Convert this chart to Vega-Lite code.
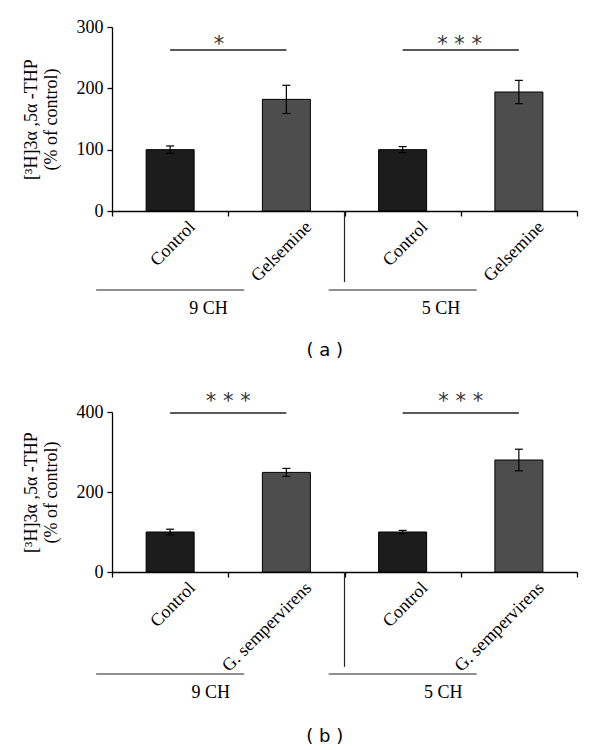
{
  "$schema": "https://vega.github.io/schema/vega-lite/v6.json",
  "padding": {"left": 22, "top": 18, "right": 20, "bottom": 5},
  "spacing": 31,
  "config": {
    "view": {"stroke": null},
    "font": "Liberation Serif",
    "axis": {
      "domainColor": "black", "tickColor": "black", "labelColor": "black", "titleColor": "black",
      "grid": false, "labelFont": "Liberation Serif", "titleFont": "Liberation Serif",
      "labelFontSize": 18, "titleFontSize": 18, "titleFontWeight": "normal",
      "tickSize": 5, "domainWidth": 1.3, "tickWidth": 1.3, "labelOverlap": false
    },
    "text": {"font": "Liberation Serif", "color": "black"}
  },
  "datasets": {
    "bars_a": [
      {"cat": "9CH|Control", "grp": "Control", "mean": 100, "lo": 94, "hi": 106},
      {"cat": "9CH|Gelsemine", "grp": "Treatment", "mean": 182, "lo": 159, "hi": 205},
      {"cat": "5CH|Control", "grp": "Control", "mean": 100, "lo": 95, "hi": 105},
      {"cat": "5CH|Gelsemine", "grp": "Treatment", "mean": 194, "lo": 175, "hi": 213}
    ],
    "sig_a": [
      {"cat": "9CH|Control", "cat2": "9CH|Gelsemine", "y": 262.5},
      {"cat": "5CH|Control", "cat2": "5CH|Gelsemine", "y": 262.5}
    ],
    "br_a": [
      {"cat": "9CH|Control", "y": -128.8},
      {"cat": "5CH|Control", "y": -128.8}
    ],
    "gl_a": [
      {"cat": "9CH|Control", "t": "9 CH", "y": -160},
      {"cat": "5CH|Control", "t": "5 CH", "y": -160}
    ],
    "bars_b": [
      {"cat": "9CH|Control", "grp": "Control", "mean": 100, "lo": 93, "hi": 107},
      {"cat": "9CH|G. sempervirens", "grp": "Treatment", "mean": 249, "lo": 239, "hi": 259},
      {"cat": "5CH|Control", "grp": "Control", "mean": 100, "lo": 96, "hi": 104},
      {"cat": "5CH|G. sempervirens", "grp": "Treatment", "mean": 280, "lo": 253, "hi": 307}
    ],
    "sig_b": [
      {"cat": "9CH|Control", "cat2": "9CH|G. sempervirens", "y": 397.5},
      {"cat": "5CH|Control", "cat2": "5CH|G. sempervirens", "y": 397.5}
    ],
    "br_b": [
      {"cat": "9CH|Control", "y": -255},
      {"cat": "5CH|Control", "y": -255}
    ],
    "gl_b": [
      {"cat": "9CH|Control", "t": "9 CH", "y": -302.5},
      {"cat": "5CH|Control", "t": "5 CH", "y": -302.5}
    ]
  },
  "vconcat": [
    {
      "width": 465, "height": 184,
      "layer": [
        {
          "data": {"name": "bars_a"},
          "mark": {"type": "bar", "size": 48, "stroke": "black", "strokeWidth": 1},
          "encoding": {
            "x": {"field": "cat", "type": "nominal",
              "scale": {"type": "band", "domain": ["9CH|Control", "9CH|Gelsemine", "5CH|Control", "5CH|Gelsemine"], "padding": 0},
              "axis": {"title": null, "tickBand": "extent", "labelExpr": "split(datum.value, '|')[1]", "labelAngle": -45, "labelAlign": "right", "labelBaseline": "middle", "labelOffset": 22, "labelPadding": 8}},
            "y": {"field": "mean", "type": "quantitative", "scale": {"domain": [0, 300]},
              "axis": {"values": [0, 100, 200, 300], "title": ["[³H]3α ,5α -THP", "(% of control)"], "titlePadding": 16, "labelPadding": 4}},
            "fill": {"field": "grp", "type": "nominal", "scale": {"domain": ["Control", "Treatment"], "range": ["#1c1c1c", "#4d4d4d"]}, "legend": null}
          }
        },
        {
          "data": {"name": "bars_a"},
          "mark": {"type": "rule", "color": "black", "strokeWidth": 1.2},
          "encoding": {
            "x": {"field": "cat", "type": "nominal", "scale": {"type": "band", "domain": ["9CH|Control", "9CH|Gelsemine", "5CH|Control", "5CH|Gelsemine"], "padding": 0}},
            "y": {"field": "lo", "type": "quantitative", "scale": {"domain": [0, 300]}},
            "y2": {"field": "hi"}
          }
        },
        {
          "data": {"name": "bars_a"},
          "mark": {"type": "tick", "size": 8, "thickness": 1.2, "color": "black", "opacity": 1},
          "encoding": {
            "x": {"field": "cat", "type": "nominal", "scale": {"type": "band", "domain": ["9CH|Control", "9CH|Gelsemine", "5CH|Control", "5CH|Gelsemine"], "padding": 0}},
            "y": {"field": "hi", "type": "quantitative", "scale": {"domain": [0, 300]}}
          }
        },
        {
          "data": {"name": "bars_a"},
          "mark": {"type": "tick", "size": 8, "thickness": 1.2, "color": "black", "opacity": 1},
          "encoding": {
            "x": {"field": "cat", "type": "nominal", "scale": {"type": "band", "domain": ["9CH|Control", "9CH|Gelsemine", "5CH|Control", "5CH|Gelsemine"], "padding": 0}},
            "y": {"field": "lo", "type": "quantitative", "scale": {"domain": [0, 300]}}
          }
        },
        {
          "data": {"name": "sig_a"},
          "mark": {"type": "rule", "color": "#222", "strokeWidth": 1.5},
          "encoding": {
            "x": {"field": "cat", "type": "nominal", "scale": {"type": "band", "domain": ["9CH|Control", "9CH|Gelsemine", "5CH|Control", "5CH|Gelsemine"], "padding": 0}},
            "x2": {"field": "cat2"},
            "y": {"field": "y", "type": "quantitative", "scale": {"domain": [0, 300]}}
          }
        },
        {
          "data": {"values": [{"cat": "9CH|Control", "s": "*", "y": 261}]},
          "mark": {"type": "text", "font": "DejaVu Sans", "fontSize": 21, "color": "#333", "baseline": "alphabetic", "align": "center"},
          "encoding": {
            "x": {"field": "cat", "type": "nominal", "bandPosition": 0.92, "scale": {"type": "band", "domain": ["9CH|Control", "9CH|Gelsemine", "5CH|Control", "5CH|Gelsemine"], "padding": 0}},
            "y": {"field": "y", "type": "quantitative", "scale": {"domain": [0, 300]}},
            "text": {"field": "s"}
          }
        },
        {
          "data": {"values": [{"cat": "5CH|Control", "s": "* * *", "y": 261}]},
          "mark": {"type": "text", "font": "DejaVu Sans", "fontSize": 21, "color": "#333", "baseline": "alphabetic", "align": "center"},
          "encoding": {
            "x": {"field": "cat", "type": "nominal", "bandPosition": 0.99, "scale": {"type": "band", "domain": ["9CH|Control", "9CH|Gelsemine", "5CH|Control", "5CH|Gelsemine"], "padding": 0}},
            "y": {"field": "y", "type": "quantitative", "scale": {"domain": [0, 300]}},
            "text": {"field": "s"}
          }
        },
        {
          "data": {"values": [{"cat": "5CH|Control", "y": 0, "y2": -116}]},
          "mark": {"type": "rule", "color": "#222", "strokeWidth": 1.2},
          "encoding": {
            "x": {"field": "cat", "type": "nominal", "bandPosition": 0, "scale": {"type": "band", "domain": ["9CH|Control", "9CH|Gelsemine", "5CH|Control", "5CH|Gelsemine"], "padding": 0}},
            "y": {"field": "y", "type": "quantitative", "scale": {"domain": [0, 300]}},
            "y2": {"field": "y2"}
          }
        },
        {
          "data": {"name": "br_a"},
          "mark": {"type": "tick", "size": 148, "thickness": 1.2, "color": "#222", "opacity": 1},
          "encoding": {
            "x": {"field": "cat", "type": "nominal", "bandPosition": 0.85, "scale": {"type": "band", "domain": ["9CH|Control", "9CH|Gelsemine", "5CH|Control", "5CH|Gelsemine"], "padding": 0}},
            "y": {"field": "y", "type": "quantitative", "scale": {"domain": [0, 300]}}
          }
        },
        {
          "data": {"name": "gl_a"},
          "mark": {"type": "text", "fontSize": 18, "baseline": "middle", "align": "center"},
          "encoding": {
            "x": {"field": "cat", "type": "nominal", "bandPosition": 0.83, "scale": {"type": "band", "domain": ["9CH|Control", "9CH|Gelsemine", "5CH|Control", "5CH|Gelsemine"], "padding": 0}},
            "y": {"field": "y", "type": "quantitative", "scale": {"domain": [0, 300]}},
            "text": {"field": "t"}
          }
        },
        {
          "data": {"values": [{"cat": "9CH|Gelsemine", "t": "( a )", "y": -227.5}]},
          "mark": {"type": "text", "font": "DejaVu Sans", "fontSize": 18, "baseline": "middle", "align": "center"},
          "encoding": {
            "x": {"field": "cat", "type": "nominal", "bandPosition": 0.83, "scale": {"type": "band", "domain": ["9CH|Control", "9CH|Gelsemine", "5CH|Control", "5CH|Gelsemine"], "padding": 0}},
            "y": {"field": "y", "type": "quantitative", "scale": {"domain": [0, 300]}},
            "text": {"field": "t"}
          }
        }
      ]
    },
    {
      "width": 465, "height": 160,
      "layer": [
        {
          "data": {"name": "bars_b"},
          "mark": {"type": "bar", "size": 48, "stroke": "black", "strokeWidth": 1},
          "encoding": {
            "x": {"field": "cat", "type": "nominal",
              "scale": {"type": "band", "domain": ["9CH|Control", "9CH|G. sempervirens", "5CH|Control", "5CH|G. sempervirens"], "padding": 0},
              "axis": {"title": null, "tickBand": "extent", "labelExpr": "split(datum.value, '|')[1]", "labelAngle": -45, "labelAlign": "right", "labelBaseline": "middle", "labelOffset": 22, "labelPadding": 8}},
            "y": {"field": "mean", "type": "quantitative", "scale": {"domain": [0, 400]},
              "axis": {"values": [0, 100, 200, 300, 400], "title": ["[³H]3α ,5α -THP", "(% of control)"], "titlePadding": 16, "labelPadding": 4}},
            "fill": {"field": "grp", "type": "nominal", "scale": {"domain": ["Control", "Treatment"], "range": ["#1c1c1c", "#4d4d4d"]}, "legend": null}
          }
        },
        {
          "data": {"name": "bars_b"},
          "mark": {"type": "rule", "color": "black", "strokeWidth": 1.2},
          "encoding": {
            "x": {"field": "cat", "type": "nominal", "scale": {"type": "band", "domain": ["9CH|Control", "9CH|G. sempervirens", "5CH|Control", "5CH|G. sempervirens"], "padding": 0}},
            "y": {"field": "lo", "type": "quantitative", "scale": {"domain": [0, 400]}},
            "y2": {"field": "hi"}
          }
        },
        {
          "data": {"name": "bars_b"},
          "mark": {"type": "tick", "size": 8, "thickness": 1.2, "color": "black", "opacity": 1},
          "encoding": {
            "x": {"field": "cat", "type": "nominal", "scale": {"type": "band", "domain": ["9CH|Control", "9CH|G. sempervirens", "5CH|Control", "5CH|G. sempervirens"], "padding": 0}},
            "y": {"field": "hi", "type": "quantitative", "scale": {"domain": [0, 400]}}
          }
        },
        {
          "data": {"name": "bars_b"},
          "mark": {"type": "tick", "size": 8, "thickness": 1.2, "color": "black", "opacity": 1},
          "encoding": {
            "x": {"field": "cat", "type": "nominal", "scale": {"type": "band", "domain": ["9CH|Control", "9CH|G. sempervirens", "5CH|Control", "5CH|G. sempervirens"], "padding": 0}},
            "y": {"field": "lo", "type": "quantitative", "scale": {"domain": [0, 400]}}
          }
        },
        {
          "data": {"name": "sig_b"},
          "mark": {"type": "rule", "color": "#222", "strokeWidth": 1.5},
          "encoding": {
            "x": {"field": "cat", "type": "nominal", "scale": {"type": "band", "domain": ["9CH|Control", "9CH|G. sempervirens", "5CH|Control", "5CH|G. sempervirens"], "padding": 0}},
            "x2": {"field": "cat2"},
            "y": {"field": "y", "type": "quantitative", "scale": {"domain": [0, 400]}}
          }
        },
        {
          "data": {"values": [{"cat": "9CH|G. sempervirens", "s": "* * *", "y": 410}, {"cat": "5CH|G. sempervirens", "s": "* * *", "y": 410}]},
          "mark": {"type": "text", "font": "DejaVu Sans", "fontSize": 21, "color": "#333", "baseline": "alphabetic", "align": "center"},
          "encoding": {
            "x": {"field": "cat", "type": "nominal", "bandPosition": 0, "scale": {"type": "band", "domain": ["9CH|Control", "9CH|G. sempervirens", "5CH|Control", "5CH|G. sempervirens"], "padding": 0}},
            "y": {"field": "y", "type": "quantitative", "scale": {"domain": [0, 400]}},
            "text": {"field": "s"}
          }
        },
        {
          "data": {"values": [{"cat": "5CH|Control", "y": 0, "y2": -237}]},
          "mark": {"type": "rule", "color": "#222", "strokeWidth": 1.2},
          "encoding": {
            "x": {"field": "cat", "type": "nominal", "bandPosition": 0, "scale": {"type": "band", "domain": ["9CH|Control", "9CH|G. sempervirens", "5CH|Control", "5CH|G. sempervirens"], "padding": 0}},
            "y": {"field": "y", "type": "quantitative", "scale": {"domain": [0, 400]}},
            "y2": {"field": "y2"}
          }
        },
        {
          "data": {"name": "br_b"},
          "mark": {"type": "tick", "size": 148, "thickness": 1.2, "color": "#222", "opacity": 1},
          "encoding": {
            "x": {"field": "cat", "type": "nominal", "bandPosition": 0.85, "scale": {"type": "band", "domain": ["9CH|Control", "9CH|G. sempervirens", "5CH|Control", "5CH|G. sempervirens"], "padding": 0}},
            "y": {"field": "y", "type": "quantitative", "scale": {"domain": [0, 400]}}
          }
        },
        {
          "data": {"name": "gl_b"},
          "mark": {"type": "text", "fontSize": 18, "baseline": "middle", "align": "center"},
          "encoding": {
            "x": {"field": "cat", "type": "nominal", "bandPosition": 0.85, "scale": {"type": "band", "domain": ["9CH|Control", "9CH|G. sempervirens", "5CH|Control", "5CH|G. sempervirens"], "padding": 0}},
            "y": {"field": "y", "type": "quantitative", "scale": {"domain": [0, 400]}},
            "text": {"field": "t"}
          }
        },
        {
          "data": {"values": [{"cat": "9CH|G. sempervirens", "t": "( b )", "y": -412.8}]},
          "mark": {"type": "text", "font": "DejaVu Sans", "fontSize": 18, "baseline": "middle", "align": "center"},
          "encoding": {
            "x": {"field": "cat", "type": "nominal", "bandPosition": 0.83, "scale": {"type": "band", "domain": ["9CH|Control", "9CH|G. sempervirens", "5CH|Control", "5CH|G. sempervirens"], "padding": 0}},
            "y": {"field": "y", "type": "quantitative", "scale": {"domain": [0, 400]}},
            "text": {"field": "t"}
          }
        }
      ]
    }
  ]
}
